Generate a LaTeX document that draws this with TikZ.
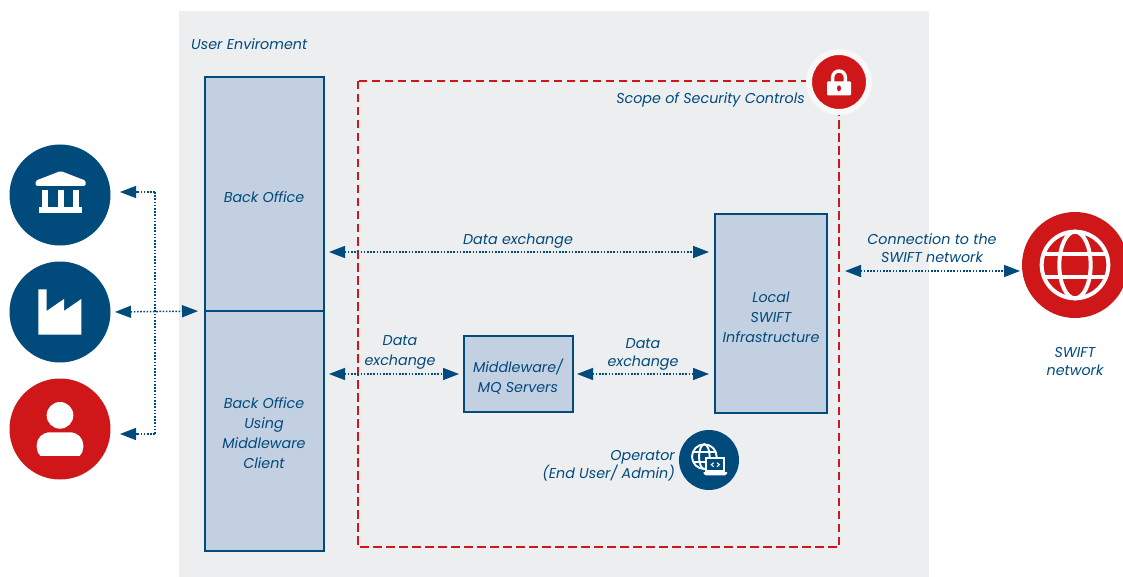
\documentclass[tikz,border=0pt]{standalone}
\usepackage{fontspec}
\setmainfont{Poppins}
\usetikzlibrary{arrows.meta}
\definecolor{navy}{HTML}{004A7C}
\definecolor{swred}{HTML}{CF1719}
\definecolor{panel}{HTML}{EDEEF0}
\definecolor{boxfill}{HTML}{C3D0E2}
\tikzset{
  txt/.style={text=navy,inner sep=0pt,align=center,font=\fontsize{14.3}{20}\selectfont\itshape},
  txttight/.style={txt,font=\fontsize{14.3}{18}\selectfont\itshape},
  sysbox/.style={draw=navy,fill=boxfill,line width=2.6pt,inner sep=0pt,outer sep=0pt,anchor=north west},
  disc/.style={circle,inner sep=0pt,outer sep=0pt,minimum size=101pt},
  link/.style={navy,line width=1.5pt,line cap=butt,dash pattern=on 1.6pt off 1.6pt},
  both/.style={link,{Triangle[length=16pt,width=12pt]}-{Triangle[length=16pt,width=12pt]}},
  tohead/.style={link,-{Triangle[length=16pt,width=12pt]}},
  icon/.style={fill=white,draw=none}
}
\begin{document}
\begin{tikzpicture}[x=1pt,y=-1pt]
\useasboundingbox (0,0) rectangle (1123,577);
\fill[panel] (179,11) rectangle (929,577);
\node[txt,anchor=west] (env) at (191,44.5) {User Enviroment};
\coordinate (sa) at (358,81);
\coordinate (sb) at (839,547);
\draw[swred,line width=2.8pt,dash pattern=on 8.5pt off 4.5pt] (sa) rectangle (sb);
\node[sysbox,minimum width=119pt,minimum height=234pt] (bo) at (205,77) {};
\node[sysbox,minimum width=119pt,minimum height=240pt] (bm) at (205,311) {};
\node[sysbox,minimum width=109pt,minimum height=76pt] (mq) at (464,336) {};
\node[sysbox,minimum width=112pt,minimum height=199pt] (ls) at (715,214) {};
\node[txt] at (264,197) {Back Office};
\node[txt] at (264,433) {Back Office\\Using\\Middleware\\Client};
\node[txt] at (518,377) {Middleware/\\MQ Servers};
\node[txt] at (771,317) {Local\\SWIFT\\Infrastructure};
\node[disc,fill=navy] (c1) at (60,195) {};
\node[disc,fill=navy] (c2) at (60,312) {};
\node[disc,fill=swred] (c3) at (60,429) {};
\node[disc,fill=swred,minimum size=106pt] (net) at (1075,265) {};
\node[circle,fill=swred,inner sep=0pt,outer sep=0pt,minimum size=60pt,draw=white!60!panel,line width=6pt] (lock) at (839,82) {};
\node[disc,fill=navy,minimum size=60pt] (op) at (709,460) {};
\begin{scope}[shift={(25,160)},x=.33333pt,y=-.33333pt]
  \fill[icon,rounded corners=1.5pt] (32,78) -- (32,62) -- (107,33) -- (182,62) -- (182,78) -- cycle;
  \fill[icon] (52,90) rectangle (70,142);
  \fill[icon] (98,90) rectangle (116,142);
  \fill[icon] (145,90) rectangle (163,142);
  \fill[icon] (42,140) rectangle (172,158);
\end{scope}
\begin{scope}[shift={(0,130)},x=.33333pt,y=-.33333pt]
  \fill[icon] (115,478) -- (140,478) -- (140,543) -- (192,507) -- (192,543) -- (244,507) -- (244,614) -- (115,614) -- cycle;
  \fill[icon] (180,856) circle[radius=40];
  \fill[icon,rounded corners=13pt] (180,907) -- (110,907) -- (110,990) -- (250,990) -- (250,907) -- cycle;
  \fill[swred] (100,977) rectangle (260,1000);
\end{scope}
\begin{scope}[shift={(780,40)},x=.33333pt,y=-.33333pt]
  \draw[white,line width=3.4pt] (158,128) -- (158,112) arc[start angle=180,end angle=360,x radius=19,y radius=19] -- (196,128);
  \fill[icon,rounded corners=1pt] (141,124) rectangle (213,166);
  \fill[swred] (177,145) ellipse[x radius=6,y radius=9];
  \draw[white,line width=4pt] (885,675) circle[radius=100];
  \draw[white,line width=4pt] (885,675) ellipse[x radius=47,y radius=100];
  \draw[white,line width=4pt] (794,643) -- (976,643) (794,710) -- (976,710);
\end{scope}
\begin{scope}[shift={(600,420)},x=.33333pt,y=-.33333pt]
  \draw[white,line width=1.9pt] (313,110) circle[radius=37];
  \draw[white,line width=1.9pt] (313,110) ellipse[x radius=16,y radius=37];
  \draw[white,line width=1.9pt] (280,95) -- (346,95) (280,125) -- (346,125);
  \filldraw[fill=navy,draw=white,line width=2pt] (319,115) rectangle (371,153);
  \fill[icon] (311,156) -- (381,156) -- (381,161) -- (375,166) -- (317,166) -- (311,161) -- cycle;
  \draw[white,line width=1.1pt] (341,128) -- (334,134) -- (341,140) (351,128) -- (358,134) -- (351,140);
\end{scope}
\coordinate (j1) at (155,192);
\coordinate (j2) at (155,312);
\coordinate (j3) at (155,434);
\draw[tohead,shorten >=9.5pt] (j1) -- (c1.east |- j1);
\draw[tohead,shorten >=9.5pt] (j3) -- (c3.east |- j3);
\draw[link] (j1) -- (j3);
\draw[both,shorten <=4.5pt,shorten >=7pt] (c2.east) -- (bm.north west);
\coordinate (d1) at (519,252);
\draw[both,shorten <=5pt,shorten >=6pt] (bo.east |- d1) -- (ls.west |- d1);
\coordinate (d2) at (400,374);
\draw[both,shorten <=5pt,shorten >=5pt] (bm.east |- d2) -- (mq.west |- d2);
\draw[both,shorten <=4pt,shorten >=6pt] (mq.east |- d2) -- (ls.west |- d2);
\coordinate (d3) at (930,271);
\draw[both,shorten <=18pt,shorten >=2pt] (ls.east |- d3) -- (net.west |- d3);
\node[txt,anchor=east] at (805,100) {Scope of Security Controls};
\node[txt] at (518,241) {Data exchange};
\node[txt] at (400,352.5) {Data\\exchange};
\node[txttight] at (643,354) {Data\\exchange};
\node[txttight] at (932,248) {Connection to the\\SWIFT network};
\node[txttight] at (1075,362) {SWIFT\\network};
\node[txttight,align=right,anchor=east] at (675,465.5) {Operator\\(End User/ Admin)};
\end{tikzpicture}
\end{document}
